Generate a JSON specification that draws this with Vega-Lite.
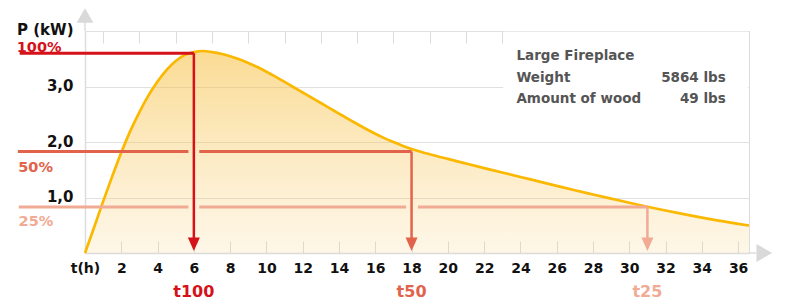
{
  "$schema": "https://vega.github.io/schema/vega-lite/v6.json",
  "width": 664,
  "height": 222,
  "autosize": {"type": "none"},
  "padding": {"left": 85, "top": 31, "right": 38, "bottom": 49},
  "background": "white",
  "config": {
    "view": {"stroke": "#dcdcdc", "strokeWidth": 1},
    "font": "DejaVu Sans"
  },
  "resolve": {"axis": {"x": "independent"}},
  "datasets": {
    "curve": [
      {"t": 0, "p": 0}, {"t": 0.5, "p": 0.46}, {"t": 1, "p": 0.93}, {"t": 1.5, "p": 1.38},
      {"t": 2, "p": 1.81}, {"t": 2.5, "p": 2.2}, {"t": 3, "p": 2.54}, {"t": 3.5, "p": 2.84},
      {"t": 4, "p": 3.09}, {"t": 4.5, "p": 3.3}, {"t": 5, "p": 3.46}, {"t": 5.5, "p": 3.57},
      {"t": 6, "p": 3.62}, {"t": 6.5, "p": 3.64}, {"t": 7, "p": 3.62}, {"t": 7.5, "p": 3.59},
      {"t": 8, "p": 3.545}, {"t": 8.5, "p": 3.49}, {"t": 9, "p": 3.425}, {"t": 9.5, "p": 3.35},
      {"t": 10, "p": 3.267}, {"t": 10.5, "p": 3.177}, {"t": 11, "p": 3.082}, {"t": 11.5, "p": 2.987},
      {"t": 12, "p": 2.892}, {"t": 12.5, "p": 2.797}, {"t": 13, "p": 2.702}, {"t": 13.5, "p": 2.607},
      {"t": 14, "p": 2.512}, {"t": 14.5, "p": 2.417}, {"t": 15, "p": 2.324}, {"t": 15.5, "p": 2.234},
      {"t": 16, "p": 2.149}, {"t": 16.5, "p": 2.07}, {"t": 17, "p": 1.998}, {"t": 17.5, "p": 1.933},
      {"t": 18, "p": 1.875}, {"t": 18.5, "p": 1.825}, {"t": 19, "p": 1.78}, {"t": 20, "p": 1.695},
      {"t": 21, "p": 1.612}, {"t": 22, "p": 1.53}, {"t": 23, "p": 1.45}, {"t": 24, "p": 1.37},
      {"t": 25, "p": 1.29}, {"t": 26, "p": 1.21}, {"t": 27, "p": 1.13}, {"t": 28, "p": 1.055},
      {"t": 29, "p": 0.98}, {"t": 30, "p": 0.905}, {"t": 31, "p": 0.833}, {"t": 32, "p": 0.765},
      {"t": 33, "p": 0.7}, {"t": 34, "p": 0.638}, {"t": 35, "p": 0.58}, {"t": 36, "p": 0.525},
      {"t": 36.6, "p": 0.495}
    ],
    "hlines": [
      {"level": "100%", "t": -3.6, "t2": 6.0, "p": 3.6},
      {"level": "50%", "t": -3.7, "t2": 5.7, "p": 1.83},
      {"level": "50%", "t": 6.3, "t2": 18.0, "p": 1.83},
      {"level": "25%", "t": -3.65, "t2": 5.7, "p": 0.83},
      {"level": "25%", "t": 6.3, "t2": 17.7, "p": 0.83},
      {"level": "25%", "t": 18.35, "t2": 31.0, "p": 0.83}
    ],
    "vlines": [
      {"level": "100%", "t": 6.0, "p": 3.6, "p2": 0.2},
      {"level": "50%", "t": 18.0, "p": 1.83, "p2": 0.2},
      {"level": "25%", "t": 31.0, "p": 0.83, "p2": 0.2}
    ],
    "pctlabels": [
      {"level": "100%", "t": -3.76, "p": 3.62, "text": "100%"},
      {"level": "50%", "t": -3.68, "p": 1.46, "text": "50%"},
      {"level": "25%", "t": -3.66, "p": 0.48, "text": "25%"}
    ],
    "tlabels": [
      {"level": "100%", "t": 6, "p": -0.79, "text": "t100"},
      {"level": "50%", "t": 18, "p": -0.79, "text": "t50"},
      {"level": "25%", "t": 31, "p": -0.79, "text": "t25"}
    ],
    "infoLeft": [
      {"t": 23.78, "p": 3.478, "text": "Large Fireplace"},
      {"t": 23.78, "p": 3.076, "text": "Weight"},
      {"t": 23.78, "p": 2.697, "text": "Amount of wood"}
    ],
    "infoRight": [
      {"t": 35.32, "p": 3.076, "text": "5864 lbs"},
      {"t": 35.32, "p": 2.697, "text": "49 lbs"}
    ],
    "box": [{"t": 23.05, "t2": 36.55, "p": 2.05, "p2": 3.985}],
    "axisExt": [
      {"t": 0, "t2": 0, "p": 4.0, "p2": 4.17},
      {"t": 36.6, "t2": 37.0, "p": 0, "p2": 0}
    ],
    "arrowUp": [{"t": 0, "p": 4.28}],
    "arrowRight": [{"t": 37.44, "p": 0}]
  },
  "layer": [
    {
      "data": {"name": "curve"},
      "mark": {
        "type": "area",
        "interpolate": "monotone",
        "fill": {
          "gradient": "linear", "x1": 0, "y1": 0, "x2": 0, "y2": 1,
          "stops": [
            {"offset": 0, "color": "rgba(247,190,60,0.55)"},
            {"offset": 1, "color": "rgba(247,200,100,0.15)"}
          ]
        }
      },
      "encoding": {
        "x": {
          "field": "t", "type": "quantitative",
          "scale": {"domain": [0, 36.6], "nice": false, "zero": false},
          "axis": {
            "title": null,
            "values": [0,2,4,6,8,10,12,14,16,18,20,22,24,26,28,30,32,34,36],
            "labelExpr": "datum.value == 0 ? 't(h)' : datum.label",
            "grid": false,
            "domainColor": "#dcdcdc", "domainWidth": 1.5,
            "tickColor": "#dcdcdc", "tickSize": -12, "tickWidth": 1,
            "labelPadding": 20,
            "labelFont": "DejaVu Sans", "labelFontSize": 14, "labelFontWeight": "bold",
            "labelColor": "#111111", "labelFlush": false, "labelOverlap": false
          }
        },
        "y": {
          "field": "p", "type": "quantitative",
          "scale": {"domain": [0, 4], "nice": false},
          "axis": {
            "title": null,
            "values": [1, 2, 3, 4],
            "labelExpr": "datum.value == 4 ? 'P (kW)' : replace(format(datum.value, '.1f'), '.', ',')",
            "grid": true, "gridColor": "#e0e0e0", "gridWidth": 1,
            "ticks": false,
            "domainColor": "#dcdcdc", "domainWidth": 1.5,
            "labelPadding": 12,
            "labelOffset": {"condition": {"test": "datum.value == 4", "value": -2}, "value": -1},
            "labelFont": "DejaVu Sans", "labelFontSize": 15, "labelFontWeight": "bold",
            "labelColor": "#111111", "labelBaseline": "middle"
          }
        }
      }
    },
    {
      "data": {"name": "curve"},
      "mark": {"type": "line", "interpolate": "monotone", "stroke": "#fbb800", "strokeWidth": 2.7},
      "encoding": {
        "x": {
          "field": "t", "type": "quantitative",
          "axis": {
            "title": null,
            "values": [1,3,5,7,9,11,13,15,17,19,21,23,25,27,29,31,33,35],
            "labels": false, "domain": false, "grid": false,
            "tickColor": "#dcdcdc", "tickSize": -12, "tickWidth": 1
          }
        },
        "y": {"field": "p", "type": "quantitative"}
      }
    },
    {
      "data": {"name": "box"},
      "mark": {"type": "rect", "fill": "white"},
      "encoding": {
        "x": {"field": "t", "type": "quantitative", "axis": null},
        "x2": {"field": "t2"},
        "y": {"field": "p", "type": "quantitative"},
        "y2": {"field": "p2"}
      }
    },
    {
      "data": {"name": "infoLeft"},
      "mark": {"type": "text", "align": "left", "baseline": "alphabetic", "font": "DejaVu Sans", "fontSize": 13.5, "fontWeight": "bold", "color": "#555555"},
      "encoding": {
        "x": {"field": "t", "type": "quantitative", "axis": null},
        "y": {"field": "p", "type": "quantitative"},
        "text": {"field": "text"}
      }
    },
    {
      "data": {"name": "infoRight"},
      "mark": {"type": "text", "align": "right", "baseline": "alphabetic", "font": "DejaVu Sans", "fontSize": 13.5, "fontWeight": "bold", "color": "#555555"},
      "encoding": {
        "x": {"field": "t", "type": "quantitative", "axis": null},
        "y": {"field": "p", "type": "quantitative"},
        "text": {"field": "text"}
      }
    },
    {
      "data": {"name": "axisExt"},
      "mark": {"type": "rule", "color": "#dcdcdc", "strokeWidth": 1.5},
      "encoding": {
        "x": {"field": "t", "type": "quantitative", "axis": null},
        "x2": {"field": "t2"},
        "y": {"field": "p", "type": "quantitative"},
        "y2": {"field": "p2"}
      }
    },
    {
      "data": {"name": "arrowUp"},
      "mark": {"type": "point", "shape": "triangle-up", "filled": true, "size": 280, "color": "#d9d9d9", "opacity": 1},
      "encoding": {
        "x": {"field": "t", "type": "quantitative", "axis": null},
        "y": {"field": "p", "type": "quantitative"}
      }
    },
    {
      "data": {"name": "arrowRight"},
      "mark": {"type": "point", "shape": "triangle-right", "filled": true, "size": 324, "color": "#d9d9d9", "opacity": 1},
      "encoding": {
        "x": {"field": "t", "type": "quantitative", "axis": null},
        "y": {"field": "p", "type": "quantitative"}
      }
    },
    {
      "data": {"name": "hlines"},
      "mark": {"type": "rule", "strokeWidth": 3},
      "encoding": {
        "x": {"field": "t", "type": "quantitative", "axis": null},
        "x2": {"field": "t2"},
        "y": {"field": "p", "type": "quantitative"},
        "color": {"field": "level", "type": "nominal", "scale": {"domain": ["100%", "50%", "25%"], "range": ["#d5121a", "#e2634b", "#f1aa93"]}, "legend": null}
      }
    },
    {
      "data": {"name": "vlines"},
      "mark": {"type": "rule", "strokeWidth": 2.5},
      "encoding": {
        "x": {"field": "t", "type": "quantitative", "axis": null},
        "y": {"field": "p", "type": "quantitative"},
        "y2": {"field": "p2"},
        "color": {"field": "level", "type": "nominal", "legend": null}
      }
    },
    {
      "data": {"name": "vlines"},
      "mark": {"type": "point", "shape": "M-1,-2.6L1,-2.6L0,-0.33Z", "filled": true, "size": 144, "opacity": 1},
      "encoding": {
        "x": {"field": "t", "type": "quantitative", "axis": null},
        "y": {"datum": 0, "type": "quantitative"},
        "color": {"field": "level", "type": "nominal", "legend": null}
      }
    },
    {
      "data": {"name": "pctlabels"},
      "mark": {"type": "text", "align": "left", "baseline": "alphabetic", "font": "DejaVu Sans", "fontSize": 14.5, "fontWeight": "bold"},
      "encoding": {
        "x": {"field": "t", "type": "quantitative", "axis": null},
        "y": {"field": "p", "type": "quantitative"},
        "text": {"field": "text"},
        "color": {"field": "level", "type": "nominal", "legend": null}
      }
    },
    {
      "data": {"name": "tlabels"},
      "mark": {"type": "text", "align": "center", "baseline": "alphabetic", "font": "DejaVu Sans", "fontSize": 16, "fontWeight": "bold"},
      "encoding": {
        "x": {"field": "t", "type": "quantitative", "axis": null},
        "y": {"field": "p", "type": "quantitative"},
        "text": {"field": "text"},
        "color": {"field": "level", "type": "nominal", "legend": null}
      }
    }
  ]
}
